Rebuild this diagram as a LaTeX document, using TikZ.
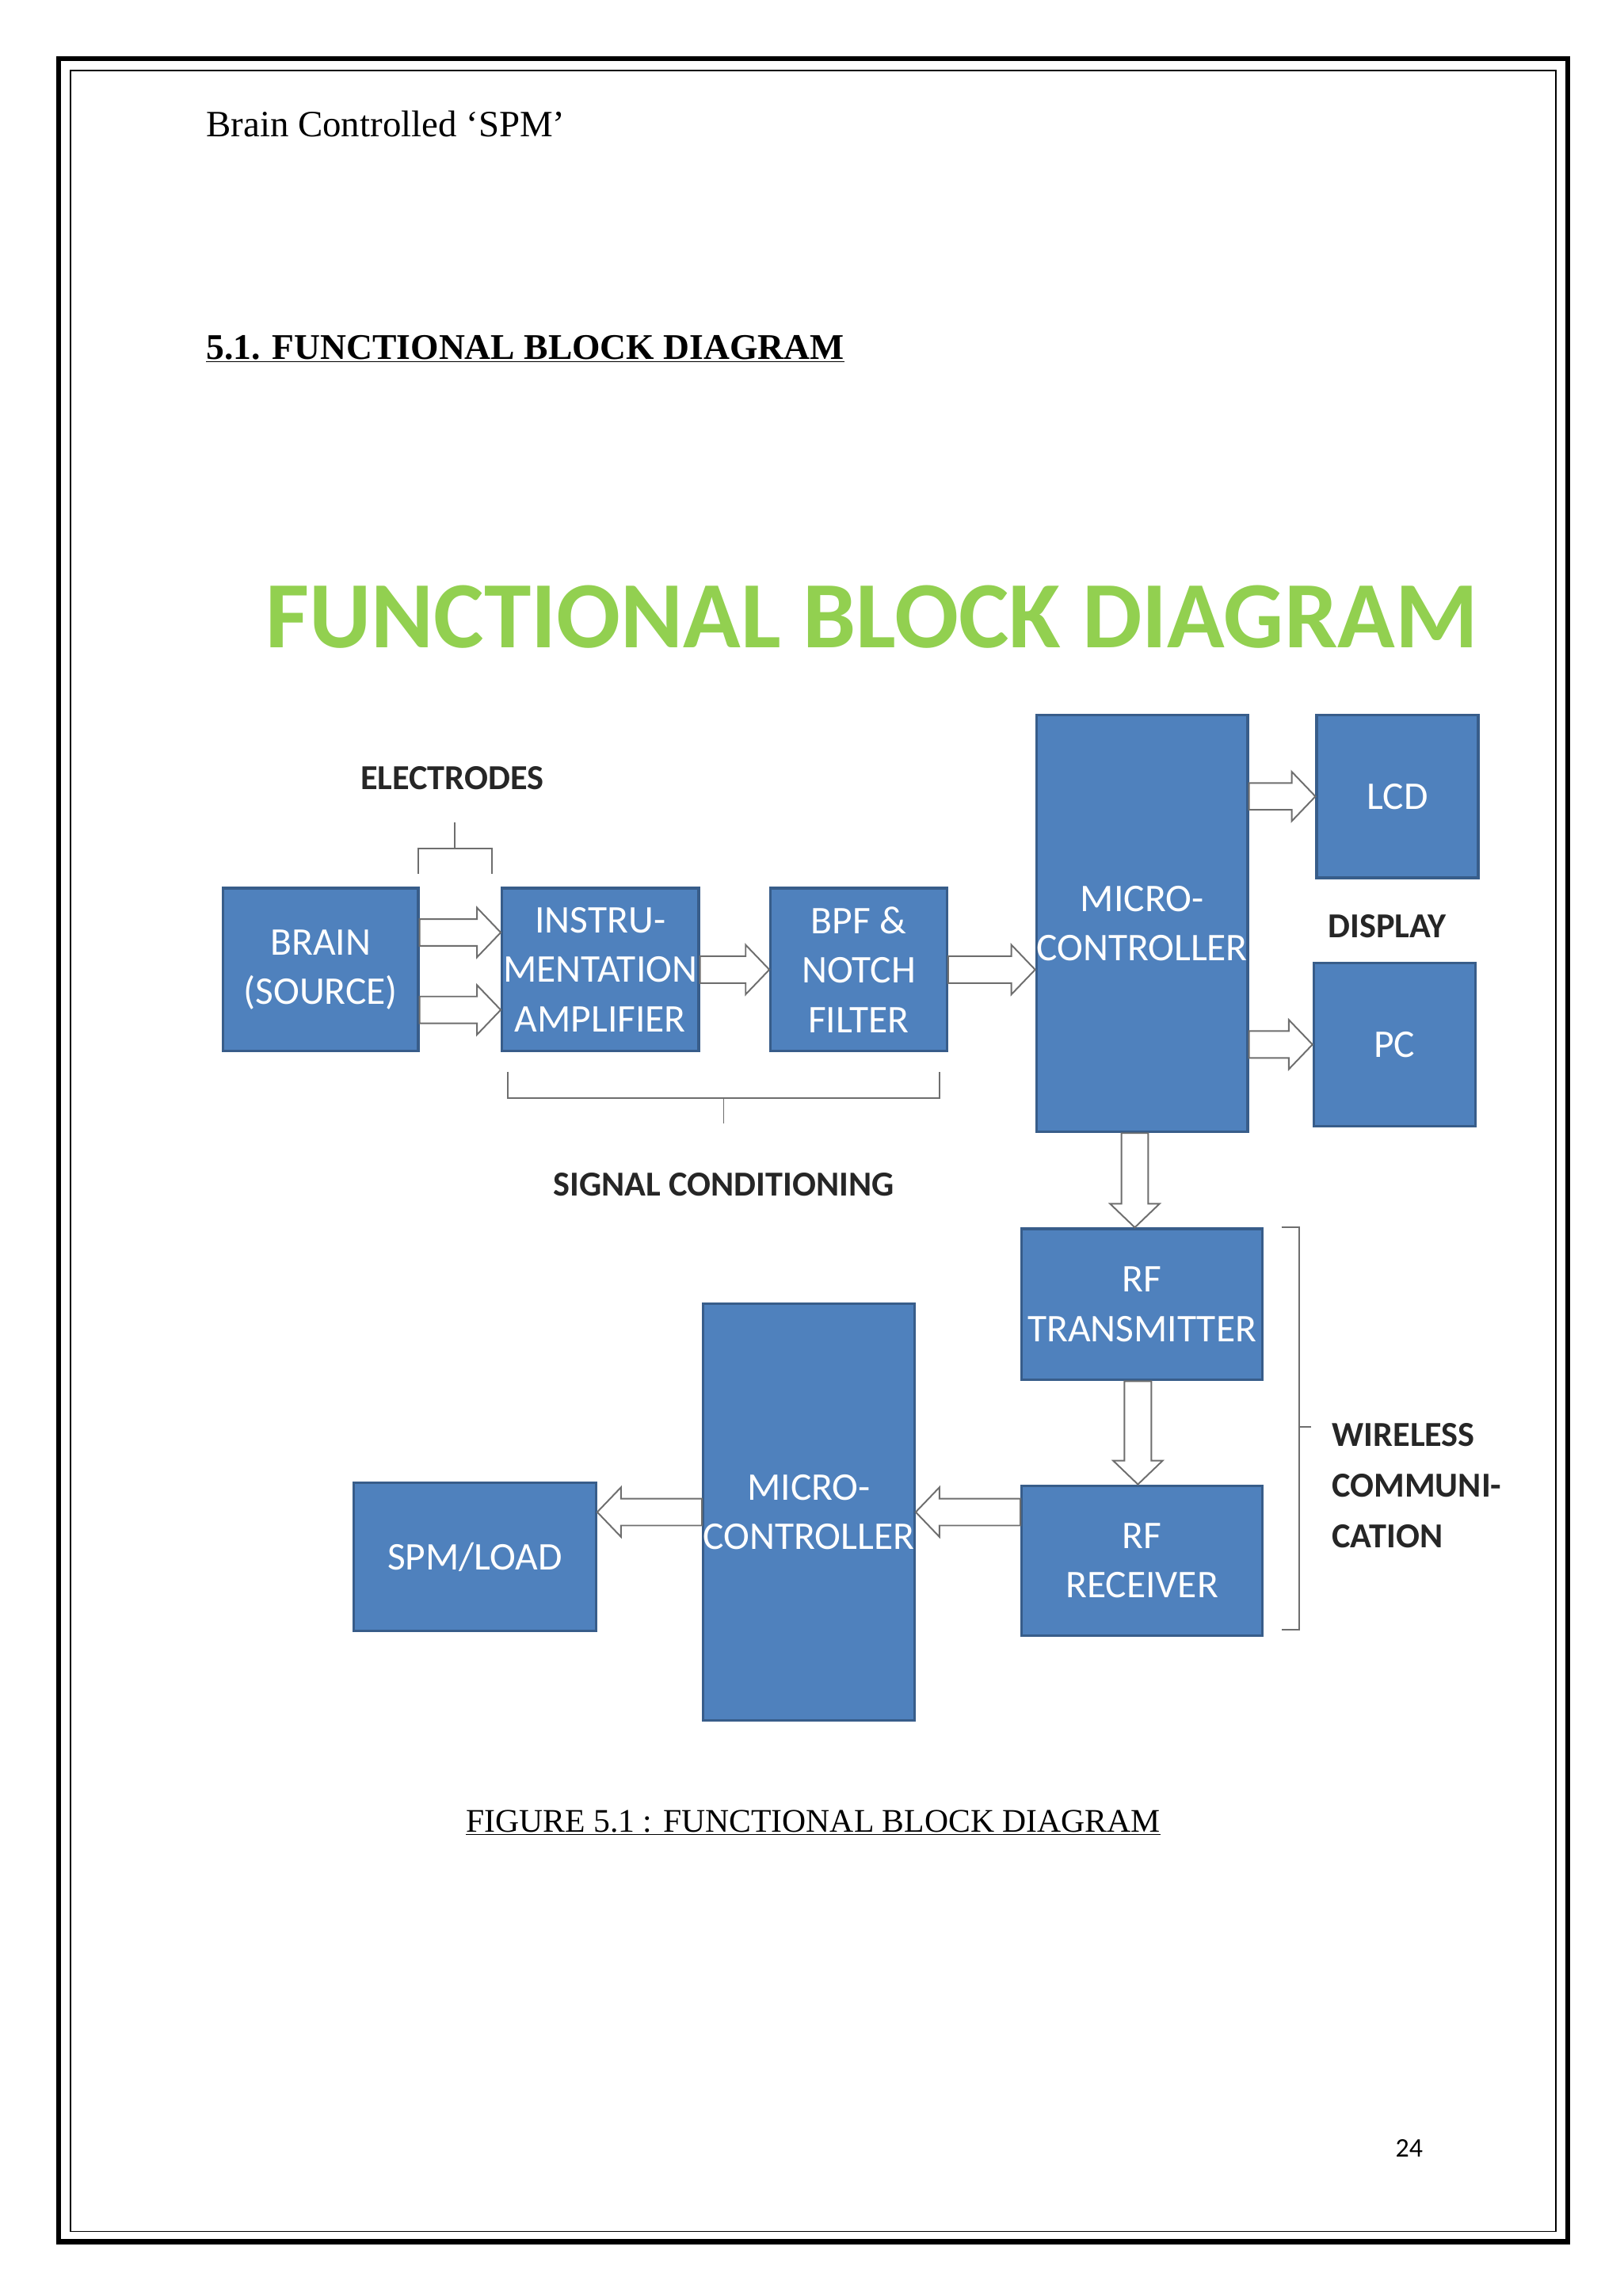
\documentclass[tikz,border=0pt]{standalone}
\usepackage{fontspec}
\setmainfont{Liberation Serif}
\newfontfamily\calfont{Carlito}
\usetikzlibrary{calc}
\definecolor{boxblue}{RGB}{79,129,189}
\definecolor{boxedge}{RGB}{56,93,138}
\definecolor{titlegreen}{RGB}{146,208,80}
\definecolor{arrgray}{RGB}{110,110,110}
\newcommand\arrR[2]{\draw[barrow] let \p1=(#1),\p2=(#2) in (\x1,\y1+13pt) -- (\x2-23pt,\y1+13pt) -- (\x2-23pt,\y1+24pt) -- (\x2,\y1) -- (\x2-23pt,\y1-24pt) -- (\x2-23pt,\y1-13pt) -- (\x1,\y1-13pt) -- cycle;}
\newcommand\arrL[2]{\draw[barrow] let \p1=(#1),\p2=(#2) in (\x1,\y1+13pt) -- (\x2+23pt,\y1+13pt) -- (\x2+23pt,\y1+24pt) -- (\x2,\y1) -- (\x2+23pt,\y1-24pt) -- (\x2+23pt,\y1-13pt) -- (\x1,\y1-13pt) -- cycle;}
\newcommand\arrD[2]{\draw[barrow] let \p1=(#1),\p2=(#2) in (\x1+13pt,\y1) -- (\x1+13pt,\y2+23pt) -- (\x1+24pt,\y2+23pt) -- (\x1,\y2) -- (\x1-24pt,\y2+23pt) -- (\x1-13pt,\y2+23pt) -- (\x1-13pt,\y1) -- cycle;}
\begin{document}
\begin{tikzpicture}[x=0.05cm,y=-0.05cm,
  box/.style={draw=boxedge,line width=2.5pt,fill=boxblue,text=white,align=center,
    font=\calfont\fontsize{38}{48}\selectfont,inner sep=0pt},
  barrow/.style={draw=arrgray,fill=white,line width=1.5pt},
  brace/.style={draw=arrgray,line width=1.5pt},
  lab/.style={font=\calfont\bfseries\fontsize{34}{49}\selectfont,text=black!85}]
\useasboundingbox (0,0) rectangle (1106,1564);
\draw[line width=5pt] (40,40) rectangle (1068,1527);
\draw[line width=1.5pt] (48,48) rectangle (1060,1520);
\node[anchor=base west,font=\fontsize{36}{40}\selectfont] (hdr) at (138,93) {Brain Controlled ‘SPM’};
\node[anchor=base west,font=\bfseries\fontsize{35}{40}\selectfont] (sec) at (138,245) {\underline{5.1. FUNCTIONAL BLOCK DIAGRAM}};
\node[font=\calfont\bfseries\fontsize{92}{100}\selectfont,text=titlegreen] (title) at (594,420) {FUNCTIONAL BLOCK DIAGRAM};

\node[box,minimum width=6.65cm,minimum height=5.55cm] (brain) at (218.5,660.5) {BRAIN\\(SOURCE)};
\node[box,minimum width=6.7cm,minimum height=5.55cm] (instr) at (409,660.5) {INSTRU-\\MENTATION\\AMPLIFIER};
\node[box,minimum width=6cm,minimum height=5.55cm] (bpf) at (585,660.5) {BPF \&\\NOTCH\\FILTER};
\node[box,minimum width=7cm,minimum height=14.2cm] (mc1) at (778,629) {MICRO-\\CONTROLLER};
\node[box,minimum width=5.5cm,minimum height=5.55cm] (lcd) at (952,542.5) {LCD};
\node[box,minimum width=5.5cm,minimum height=5.55cm] (pc) at (950,711.5) {PC};
\node[box,minimum width=8.2cm,minimum height=5.15cm] (rftx) at (778,888.5) {RF\\TRANSMITTER};
\node[box,minimum width=8.2cm,minimum height=5.1cm] (rfrx) at (778,1063) {RF\\RECEIVER};
\node[box,minimum width=7cm,minimum height=14.2cm] (mc2) at (551,1030) {MICRO-\\CONTROLLER};
\node[box,minimum width=8.25cm,minimum height=5.05cm] (spm) at (323.5,1060.5) {SPM/LOAD};

\arrR{[yshift=36pt]brain.east}{[yshift=36pt]instr.west}
\arrR{[yshift=-39pt]brain.east}{[yshift=-39pt]instr.west}
\arrR{instr.east}{bpf.west}
\arrR{bpf.east}{mc1.west}
\arrR{mc1.east|-lcd}{lcd.west}
\arrR{mc1.east|-pc}{pc.west}
\arrD{[xshift=-7pt]mc1.south}{[xshift=-7pt]rftx.north}
\arrD{[xshift=-4pt]rftx.south}{[xshift=-4pt]rfrx.north}
\arrL{rfrx.west|-mc2}{[yshift=-43pt]mc2.east}
\arrL{mc2.west}{spm.east}

\coordinate (e1) at (285,595); \coordinate (e2) at (335,595);
\draw[brace] (e1) -- (285,578) -- (335,578) -- (e2) (310,578) -- (310,560);
\node[lab] (elec) at (308,530) {ELECTRODES};
\draw[brace] (346,730) -- (346,748) -- (640,748) -- (640,730) (493,748) -- (493,765);
\node[lab] (sig) at (493,807) {SIGNAL CONDITIONING};
\draw[brace] (873,836) -- (885,836) -- (885,1110) -- (873,1110) (885,972) -- (893,972);
\node[lab,anchor=west,align=left] (wl) at (905,1012) {WIRELESS\\COMMUNI-\\CATION};
\node[lab] (disp) at (945,631) {DISPLAY};

\node[anchor=base,font=\fontsize{32}{36}\selectfont] (cap) at (554,1248) {\underline{FIGURE 5.1 : FUNCTIONAL BLOCK DIAGRAM}};
\node[anchor=base,font=\calfont\fontsize{26}{30}\selectfont] (pg) at (960,1469) {24};
\end{tikzpicture}
\end{document}
